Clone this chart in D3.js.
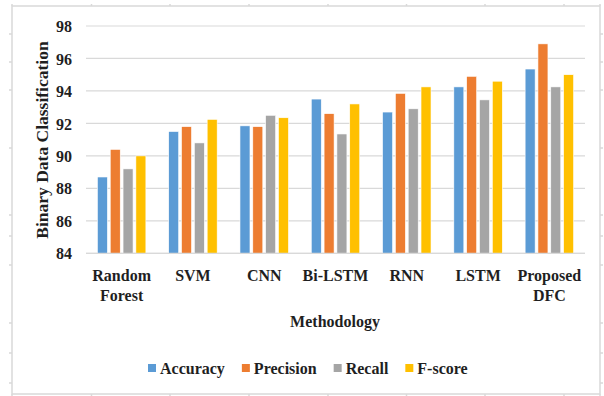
<!DOCTYPE html>
<html>
<head>
<meta charset="utf-8">
<script src="https://cdn.jsdelivr.net/npm/d3@7/dist/d3.min.js"></script>
<style>
  html, body { margin: 0; padding: 0; background: #fff; }
  svg { display: block; }
  text { font-family: "Liberation Serif", "Times New Roman", serif; font-weight: bold; fill: #1f1f1f; }
</style>
</head>
<body>
<svg id="chart" width="604" height="396"></svg>
<script>
// ---- data ----
const categories = [["Random", "Forest"], ["SVM"], ["CNN"], ["Bi-LSTM"], ["RNN"], ["LSTM"], ["Proposed", "DFC"]];
const seriesNames = ["Accuracy", "Precision", "Recall", "F-score"];
const accuracy  = [88.7, 91.5, 91.85, 93.5, 92.7, 94.25, 95.35];
const precision = [90.4, 91.8, 91.8, 92.6, 93.85, 94.9, 96.9];
const recall    = [89.2, 90.8, 92.5, 91.35, 92.9, 93.45, 94.25];
const fscore    = [90.0, 92.25, 92.35, 93.2, 94.25, 94.6, 95.0];
const yTicks = [84, 86, 88, 90, 92, 94, 96, 98];
const colors = ["#5B9BD5", "#ED7D31", "#A5A5A5", "#FFC000"];

const seriesValues = [accuracy, precision, recall, fscore];
const svg = d3.select("#chart");

// ---- frame ----
const frameColor = "#d9d9d9";
svg.append("rect").attr("x", 12).attr("y", 6).attr("width", 588).attr("height", 388)
  .attr("fill", "none").attr("stroke", frameColor).attr("stroke-width", 1.5);
const topTicks = [12, 91.5, 170, 249, 328, 406.5, 485, 564, 600];
topTicks.forEach(x => {
  svg.append("line").attr("x1", x).attr("x2", x).attr("y1", 4).attr("y2", 6).attr("stroke", frameColor).attr("stroke-width", 1.5);
  svg.append("line").attr("x1", x).attr("x2", x).attr("y1", 394).attr("y2", 396).attr("stroke", frameColor).attr("stroke-width", 1.5);
});
const sideTicks = [34, 62, 90, 148, 215, 236, 265, 323, 353, 383];
sideTicks.forEach(y => {
  svg.append("line").attr("x1", 9).attr("x2", 12).attr("y1", y).attr("y2", y).attr("stroke", frameColor).attr("stroke-width", 1.5);
  svg.append("line").attr("x1", 600).attr("x2", 603).attr("y1", y).attr("y2", y).attr("stroke", frameColor).attr("stroke-width", 1.5);
});

// ---- scales ----
const plotLeft = 86, plotRight = 585, plotTop = 26, plotBottom = 253.3;
const x = d3.scaleBand().domain(d3.range(categories.length)).range([plotLeft, plotRight])
  .paddingInner(0.32).paddingOuter(0.16);
const xs = d3.scaleBand().domain(d3.range(seriesNames.length)).range([0, x.bandwidth()])
  .paddingInner(0.22).paddingOuter(0);
const y = d3.scaleLinear().domain([84, 98]).range([plotBottom, plotTop]);

// ---- gridlines ----
svg.append("g").selectAll("line").data(yTicks).join("line")
  .attr("x1", plotLeft).attr("x2", plotRight)
  .attr("y1", d => y(d)).attr("y2", d => y(d))
  .attr("stroke", "#d9d9d9").attr("stroke-width", 1.2);

// ---- y axis labels ----
const yAxis = d3.axisLeft(y).tickValues(yTicks).tickSize(0).tickPadding(0).tickFormat(d3.format("d"));
const yg = svg.append("g").attr("transform", "translate(72,0)").call(yAxis);
yg.select(".domain").remove();
yg.selectAll("text").attr("font-size", 16).attr("dy", "0.35em")
  .style("font-family", "'Liberation Serif', serif").style("font-weight", "bold").attr("fill", "#1f1f1f");

// ---- bars ----
const groups = svg.append("g").selectAll("g").data(categories.map((c, i) => i)).join("g")
  .attr("transform", i => `translate(${x(i)},0)`);
groups.selectAll("rect").data(i => seriesValues.map((vals, s) => ({ s, v: vals[i] }))).join("rect")
  .attr("x", d => xs(d.s))
  .attr("width", xs.bandwidth())
  .attr("y", d => y(d.v))
  .attr("height", d => y(84) - y(d.v))
  .attr("fill", d => colors[d.s])
  .attr("stroke", "#ffffff").attr("stroke-width", 0.6);

// ---- baseline ----
svg.append("line").attr("x1", plotLeft).attr("x2", plotRight)
  .attr("y1", y(84)).attr("y2", y(84)).attr("stroke", "#d9d9d9").attr("stroke-width", 1.2);

// ---- x axis labels ----
const xl = svg.append("g");
categories.forEach((lines, i) => {
  const t = xl.append("text").attr("text-anchor", "middle").attr("font-size", 16)
    .attr("x", x(i) + x.bandwidth() / 2).attr("y", 280.5);
  lines.forEach((ln, k) => {
    t.append("tspan").attr("x", x(i) + x.bandwidth() / 2).attr("dy", k === 0 ? 0 : 20).text(ln);
  });
});

// ---- axis titles ----
svg.append("text").attr("text-anchor", "middle").attr("font-size", 16)
  .attr("x", 335).attr("y", 327).text("Methodology");
svg.append("text").attr("text-anchor", "middle").attr("font-size", 17.5)
  .attr("transform", "translate(47.5,140) rotate(-90)").text("Binary Data Classification");

// ---- legend ----
const legend = svg.append("g");
let lx = 148;
seriesNames.forEach((name, s) => {
  legend.append("rect").attr("x", lx).attr("y", 364).attr("width", 8).attr("height", 8).attr("fill", colors[s]);
  const t = legend.append("text").attr("x", lx + 12).attr("y", 373.5).attr("font-size", 16).text(name);
  lx = lx + 12 + t.node().getComputedTextLength() + 17;
});
</script>
</body>
</html>
